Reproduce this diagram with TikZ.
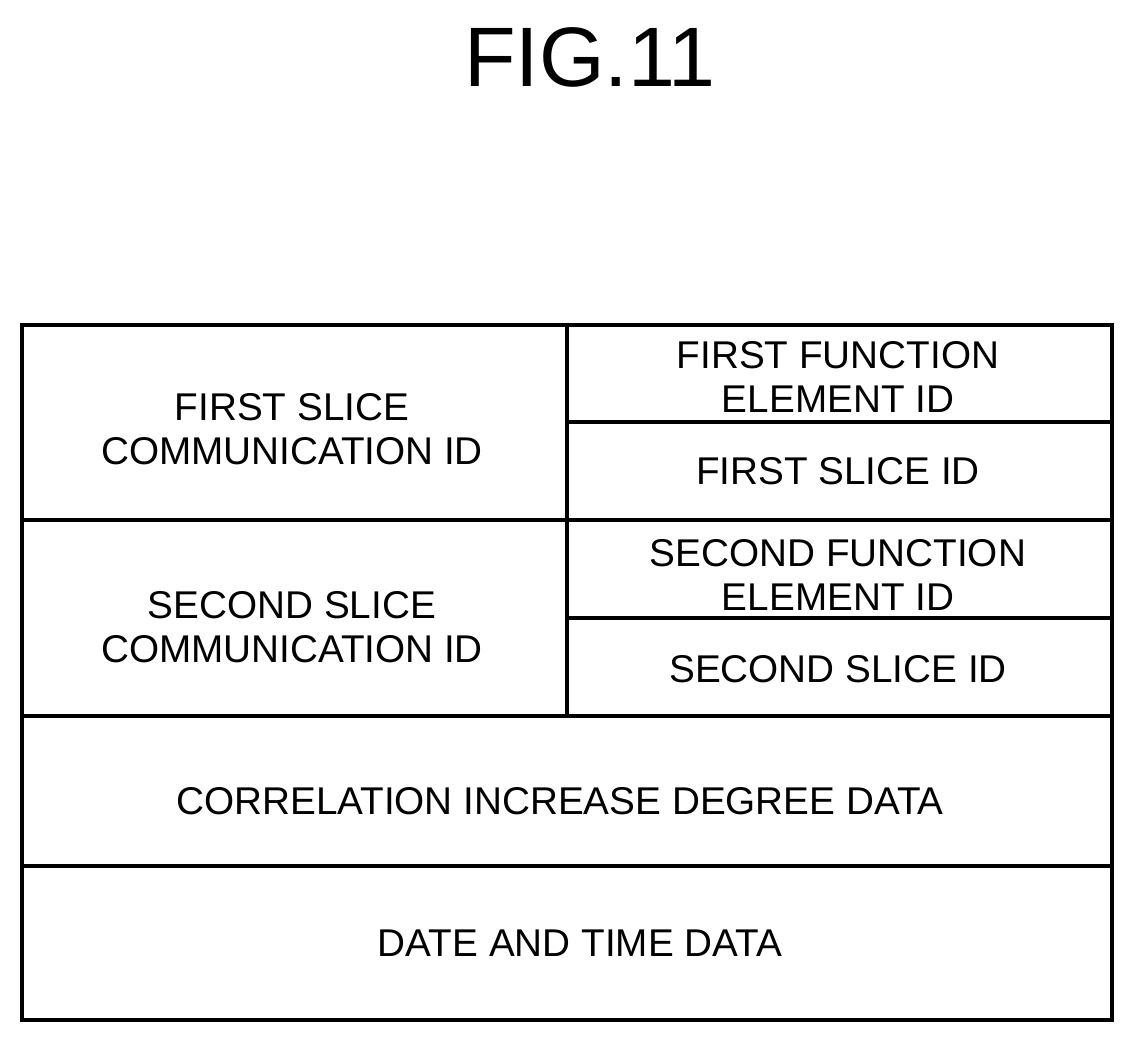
\documentclass[tikz,border=0pt]{standalone}
\usepackage{fontspec}
\setmainfont{Liberation Sans}
\usetikzlibrary{positioning}

\begin{document}
\begin{tikzpicture}[
    x=0.01cm, y=-0.01cm,
    every node/.style={font=\fontsize{11}{12.5}\selectfont, align=center},
    cell/.style={line width=1.4pt}
]
\useasboundingbox (0,0) rectangle (1136,1043);

% Title
\node[font=\fontsize{24}{28}\selectfont] (title) at (590,57) {FIG.11};

% Table frame
\draw[cell] (22,325) rectangle (1112,1020);
\draw[cell] (567,325) -- (567,716);
\draw[cell] (567,422) -- (1112,422);
\draw[cell] (22,520) -- (1112,520);
\draw[cell] (567,618) -- (1112,618);
\draw[cell] (22,716) -- (1112,716);
\draw[cell] (22,866) -- (1112,866);

% Cells
\node (slicecomm1) at (292,429) {FIRST SLICE\\COMMUNICATION ID};
\node (funcelem1) at (838,377) {FIRST FUNCTION\\ELEMENT ID};
\node (sliceid1) at (838,471) {FIRST SLICE ID};
\node (slicecomm2) at (292,627) {SECOND SLICE\\COMMUNICATION ID};
\node (funcelem2) at (838,575) {SECOND FUNCTION\\ELEMENT ID};
\node (sliceid2) at (838,669) {SECOND SLICE ID};
\node (corr) at (560,801) {CORRELATION INCREASE DEGREE DATA};
\node (datetime) at (580,943) {DATE AND TIME DATA};

\end{tikzpicture}
\end{document}
